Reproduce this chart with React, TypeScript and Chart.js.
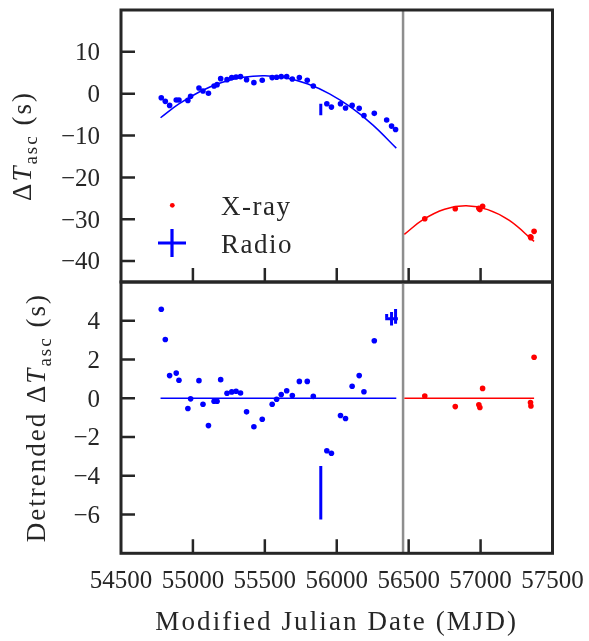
import React, { useEffect, useRef } from 'react';
import { Chart, registerables } from 'chart.js';

Chart.register(...registerables);

// ---------------- data ----------------
const X_RANGE = [54500, 57500];
const X_TICKS = [54500, 55000, 55500, 56000, 56500, 57000, 57500];
const TOP_Y_RANGE = [-45, 20];
const TOP_Y_TICKS = [-40, -30, -20, -10, 0, 10];
const BOT_Y_RANGE = [-8, 6];
const BOT_Y_TICKS = [-6, -4, -2, 0, 2, 4];

// early (blue) timing points
const BLUE_MJD = [54780, 54808, 54838, 54884, 54903, 54965, 54984, 55042, 55070, 55108,
  55147, 55168, 55193, 55237, 55270, 55300, 55331, 55373, 55424, 55482,
  55551, 55582, 55614, 55652, 55691, 55740, 55795, 55837, 55931, 55963,
  56026, 56061, 56107, 56156, 56189, 56261];
const BLUE_TOP = [-0.96, -1.83, -2.8, -1.5, -1.5, -1.6, -0.6, 1.37, 0.65, 0.1,
  1.85, 2.16, 3.6, 3.36, 3.84, 4.0, 4.08, 3.36, 2.64, 3.2,
  3.84, 3.92, 4.08, 4.08, 3.5, 3.84, 3.2, 1.85, -2.4, -3.2,
  -2.4, -3.43, -2.8, -3.5, -5.2, -4.7];
const BLUE_RES = [4.59, 3.03, 1.17, 1.30, 0.93, -0.53, -0.03, 0.91, -0.31, -1.41,
  -0.15, -0.15, 0.96, 0.26, 0.33, 0.36, 0.27, -0.70, -1.47, -1.08,
  -0.31, -0.05, 0.19, 0.39, 0.14, 0.87, 0.87, 0.10, -2.71, -2.84,
  -0.89, -1.04, 0.62, 1.17, 0.34, 2.97];

// late radio points (dots on top, error bars on the residual panel)
const LATE_MJD = [56347, 56381, 56409];
const LATE_TOP = [-6.3, -7.75, -8.55];
const LATE_RES = [4.25, 4.1, 4.23];
const LATE_YERR = [0.1, 0.35, 0.38];
const LATE_XERR = [0, 44, 0];

// radio point with large error
const RADIO_MJD = [55889];
const RADIO_TOP = [-3.8];
const RADIO_RES = [-4.87];
const RADIO_YERR = [1.38];

// X-ray (red) points
const XRAY_MJD = [56612, 56824, 56988, 56995, 57014, 57347, 57350, 57372];
const XRAY_TOP = [-29.9, -27.5, -27.4, -27.7, -26.9, -34.2, -34.4, -32.9];
const XRAY_RES = [0.12, -0.43, -0.34, -0.48, 0.51, -0.22, -0.40, 2.12];

// fitted curves
const BLUE_FIT_MJD = [54775, 54900, 55050, 55200, 55350, 55500, 55650, 55800, 55950, 56100, 56250, 56414];
const BLUE_FIT_VAL = [-5.75, -2.52, 0.53, 2.69, 3.94, 4.3, 3.75, 2.3, -0.04, -3.29, -7.44, -13.0];
const RED_FIT_MJD = [56470, 56600, 56750, 56900, 57050, 57200, 57372];
const RED_FIT_VAL = [-33.6, -30.1, -27.6, -26.8, -27.7, -30.3, -35.3];

const BLUE_ZERO_MJD = [54775, 56414];
const RED_ZERO_MJD = [56470, 57372];
const VLINE_MJD = 56461;

// ---------------- layout / style ----------------
const W = 589;
const H = 641;
const AREA = { left: 121, right: 552.5, top: 10, mid: 282, bottom: 553.3 };
const TICK_LEN = 14;
const Y_LABEL_RIGHT = 100;
const X_LABEL_BASELINE = 587.5;
const FONT = '"Liberation Serif", "Times New Roman", serif';
const INK = '#262626';
const BLUE = '#0000ff';
const RED = '#ff0000';

const fmt = (v: number) => (v < 0 ? '\u2212' + Math.abs(v) : String(v));
const pts = (xs: number[], ys: number[]) => xs.map((x, i) => ({ x, y: ys[i] }));

function dots(xs: number[], ys: number[], color: string) {
  return { data: pts(xs, ys), pointRadius: 2.8, pointBackgroundColor: color, pointBorderWidth: 0, showLine: false, borderColor: color };
}
function curve(xs: number[], ys: number[], color: string, tension = 0.4) {
  return { data: pts(xs, ys), showLine: true, borderColor: color, borderWidth: 1.5, pointRadius: 0, tension };
}
function errorBars(xs: number[], ys: number[], yerr: number[], xerr?: number[]) {
  const out: any[] = [];
  xs.forEach((x, i) => {
    out.push({ data: [{ x, y: ys[i] - yerr[i] }, { x, y: ys[i] + yerr[i] }], showLine: true, borderColor: BLUE, borderWidth: 3, pointRadius: 0, borderCapStyle: 'butt' });
    if (xerr && xerr[i] > 0) {
      out.push({ data: [{ x: x - xerr[i], y: ys[i] }, { x: x + xerr[i], y: ys[i] }], showLine: true, borderColor: BLUE, borderWidth: 3, pointRadius: 0, borderCapStyle: 'butt' });
    }
  });
  return out;
}

type Part = { t: string; font: string; dy?: number };
function drawRichVertical(ctx: CanvasRenderingContext2D, parts: Part[], bx: number, cy: number) {
  ctx.save();
  (ctx as any).letterSpacing = '2px';
  let total = 0;
  parts.forEach(p => { ctx.font = p.font; total += ctx.measureText(p.t).width; });
  ctx.translate(bx, cy);
  ctx.rotate(-Math.PI / 2);
  ctx.fillStyle = INK;
  ctx.textBaseline = 'alphabetic';
  ctx.textAlign = 'left';
  let x = -total / 2;
  parts.forEach(p => {
    ctx.font = p.font;
    ctx.fillText(p.t, x, p.dy || 0);
    x += ctx.measureText(p.t).width;
  });
  ctx.restore();
}

const BIG = `27px ${FONT}`;
const BIG_I = `italic 27px ${FONT}`;
const SUB = `19px ${FONT}`;
const TICK_FONT = `25px ${FONT}`;

function panelPlugin(which: 'top' | 'bottom') {
  return {
    id: 'panel_' + which,
    beforeDatasetsDraw(chart: any) {
      const { ctx, chartArea: a, scales } = chart;
      const gx = scales.x.getPixelForValue(VLINE_MJD);
      ctx.save();
      ctx.strokeStyle = '#8e8e8e';
      ctx.lineWidth = 2.5;
      ctx.beginPath();
      ctx.moveTo(gx, a.top);
      ctx.lineTo(gx, a.bottom);
      ctx.stroke();
      ctx.restore();
    },
    afterDraw(chart: any) {
      const { ctx, chartArea: a, scales } = chart;
      const yt = which === 'top' ? TOP_Y_TICKS : BOT_Y_TICKS;
      ctx.save();
      // tick marks (inward)
      ctx.strokeStyle = INK;
      ctx.lineWidth = 2.5;
      ctx.beginPath();
      yt.forEach(v => {
        const y = scales.y.getPixelForValue(v);
        ctx.moveTo(a.left, y);
        ctx.lineTo(a.left + TICK_LEN, y);
      });
      X_TICKS.forEach(v => {
        const x = scales.x.getPixelForValue(v);
        if (x <= a.left + 2 || x >= a.right - 2) return;
        ctx.moveTo(x, a.bottom);
        ctx.lineTo(x, a.bottom - TICK_LEN);
      });
      ctx.stroke();
      ctx.lineWidth = 3;
      ctx.strokeRect(a.left, a.top, a.right - a.left, a.bottom - a.top);

      // tick labels
      ctx.fillStyle = INK;
      ctx.font = TICK_FONT;
      ctx.textBaseline = 'alphabetic';
      ctx.textAlign = 'right';
      yt.forEach(v => {
        const y = scales.y.getPixelForValue(v);
        ctx.fillText(fmt(v), Y_LABEL_RIGHT, y + 8.3);
      });
      if (which === 'bottom') {
        ctx.textAlign = 'center';
        X_TICKS.forEach(v => {
          ctx.fillText(String(v), scales.x.getPixelForValue(v), X_LABEL_BASELINE);
        });
      }
      ctx.restore();

      const cy = (a.top + a.bottom) / 2;
      if (which === 'top') {
        drawRichVertical(ctx, [
          { t: 'Δ', font: BIG },
          { t: 'T', font: BIG_I },
          { t: 'asc', font: SUB, dy: 6 },
          { t: ' (s)', font: BIG },
        ], 31, cy);

        // legend
        ctx.save();
        ctx.fillStyle = RED;
        ctx.beginPath();
        ctx.arc(172.3, 205.3, 2.4, 0, Math.PI * 2);
        ctx.fill();
        ctx.strokeStyle = BLUE;
        ctx.lineWidth = 3.2;
        ctx.beginPath();
        ctx.moveTo(158, 243);
        ctx.lineTo(186, 243);
        ctx.moveTo(172, 229);
        ctx.lineTo(172, 257);
        ctx.stroke();
        ctx.fillStyle = INK;
        ctx.font = BIG;
        (ctx as any).letterSpacing = '1.5px';
        ctx.textBaseline = 'alphabetic';
        ctx.fillText('X-ray', 221, 215);
        ctx.fillText('Radio', 221, 252.5);
        ctx.restore();
      } else {
        drawRichVertical(ctx, [
          { t: 'Detrended Δ', font: BIG },
          { t: 'T', font: BIG_I },
          { t: 'asc', font: SUB, dy: 6 },
          { t: ' (s)', font: BIG },
        ], 45, cy);

        ctx.save();
        ctx.fillStyle = INK;
        ctx.font = BIG;
        (ctx as any).letterSpacing = '2.1px';
        ctx.textAlign = 'center';
        ctx.textBaseline = 'alphabetic';
        ctx.fillText('Modified Julian Date (MJD)', (a.left + a.right) / 2, 630);
        ctx.restore();
      }
    },
  };
}

function makeOptions(yRange: number[], padding: any) {
  return {
    animation: false,
    responsive: false,
    events: [],
    layout: { padding },
    plugins: { legend: { display: false }, tooltip: { enabled: false } },
    scales: {
      x: { type: 'linear', min: X_RANGE[0], max: X_RANGE[1], display: false },
      y: { type: 'linear', min: yRange[0], max: yRange[1], display: false },
    },
  };
}

export default function App() {
  const topRef = useRef<HTMLCanvasElement>(null);
  const botRef = useRef<HTMLCanvasElement>(null);

  useEffect(() => {
    const top = new Chart(topRef.current as HTMLCanvasElement, {
      type: 'scatter',
      data: {
        datasets: [
          curve(BLUE_FIT_MJD, BLUE_FIT_VAL, BLUE),
          curve(RED_FIT_MJD, RED_FIT_VAL, RED),
          dots(BLUE_MJD, BLUE_TOP, BLUE),
          dots(LATE_MJD, LATE_TOP, BLUE),
          dots(XRAY_MJD, XRAY_TOP, RED),
          ...errorBars(RADIO_MJD, RADIO_TOP, RADIO_YERR),
        ] as any,
      },
      options: makeOptions(TOP_Y_RANGE, { left: AREA.left, right: W - AREA.right, top: AREA.top, bottom: H - AREA.mid }) as any,
      plugins: [panelPlugin('top')],
    });
    const bot = new Chart(botRef.current as HTMLCanvasElement, {
      type: 'scatter',
      data: {
        datasets: [
          curve(BLUE_ZERO_MJD, [0, 0], BLUE, 0),
          curve(RED_ZERO_MJD, [0, 0], RED, 0),
          dots(BLUE_MJD, BLUE_RES, BLUE),
          dots(XRAY_MJD, XRAY_RES, RED),
          ...errorBars(RADIO_MJD, RADIO_RES, RADIO_YERR),
          ...errorBars(LATE_MJD, LATE_RES, LATE_YERR, LATE_XERR),
        ] as any,
      },
      options: makeOptions(BOT_Y_RANGE, { left: AREA.left, right: W - AREA.right, top: AREA.mid, bottom: H - AREA.bottom }) as any,
      plugins: [panelPlugin('bottom')],
    });
    return () => { top.destroy(); bot.destroy(); };
  }, []);

  return (
    <div style={{ position: 'fixed', left: 0, top: 0, width: W, height: H, background: '#fff' }}>
      <canvas ref={topRef} width={W} height={H} style={{ position: 'absolute', left: 0, top: 0 }} />
      <canvas ref={botRef} width={W} height={H} style={{ position: 'absolute', left: 0, top: 0 }} />
    </div>
  );
}
